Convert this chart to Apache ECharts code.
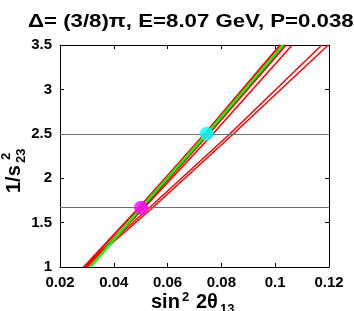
<!DOCTYPE html>
<html><head><meta charset="utf-8">
<script src="https://cdn.jsdelivr.net/npm/echarts@6/dist/echarts.min.js"></script>
<style>html,body{margin:0;padding:0;background:#fff;}#c{width:354px;height:311px;}</style>
</head><body><div id="c"></div>
<script>
// ---- data ----
const yLevels = [1, 1.667, 2.5, 3.5];               // 1/s23^2 values where curves were read
const redBandLeft  = [0.0289, 0.0494, 0.0738, 0.1019];
const redBandRight = [0.0300, 0.0508, 0.0753, 0.1039];
const greenCurve   = [0.0313, 0.0501, 0.0745, 0.1029];
const redSingle    = [0.0300, 0.0513, 0.0769, 0.1063];
const redDouble1   = [0.0287, 0.0532, 0.0832, 0.1173];
const redDouble2   = [0.0292, 0.0544, 0.0845, 0.1197];
const hLines = [2.5, 1.6667];
const cyanPoint = [0.0745, 2.5];
const magentaPoint = [0.0501, 1.6667];
const xTicks = {min: 0.02, max: 0.12, step: 0.02};
const yTicks = {min: 1, max: 3.5, step: 0.5};
const titleText = 'Δ= (3/8)π, E=8.07 GeV, P=0.0388';

const FF = '"Liberation Sans", Arial, Helvetica, sans-serif';
const pairs = xs => xs.map((x, i) => [x, yLevels[i]]);
function curve(xs, color, width, z) {
  return {type: 'line', data: pairs(xs), symbol: 'none', silent: true, z: z,
    lineStyle: {color: color, width: width}, animation: false};
}
const chart = echarts.init(document.getElementById('c'), null, {renderer: 'canvas'});
const axisCommon = {
  axisLine: {show: true, lineStyle: {color: '#000', width: 1}},
  axisTick: {show: true, inside: true, length: 4, lineStyle: {color: '#000'}},
  splitLine: {show: false}
};
chart.setOption({
  animation: false,
  grid: {left: 60, right: 25, top: 45, bottom: 44, show: false},
  xAxis: [
    Object.assign({type: 'value', min: xTicks.min, max: xTicks.max, interval: xTicks.step, position: 'bottom',
      axisLabel: {color: '#000', fontSize: 15, fontWeight: 'bold', fontFamily: FF, margin: 8}}, axisCommon),
    Object.assign({type: 'value', min: xTicks.min, max: xTicks.max, interval: xTicks.step, position: 'top',
      axisLabel: {show: false}}, axisCommon)
  ],
  yAxis: [
    Object.assign({type: 'value', min: yTicks.min, max: yTicks.max, interval: yTicks.step, position: 'left',
      axisLabel: {color: '#000', fontSize: 15, fontWeight: 'bold', fontFamily: FF, margin: 8}}, axisCommon),
    Object.assign({type: 'value', min: yTicks.min, max: yTicks.max, interval: yTicks.step, position: 'right',
      axisLabel: {show: false}}, axisCommon)
  ],
  series: [
    {type: 'line', data: [], z: 1, markLine: {silent: true, symbol: 'none', animation: false,
      label: {show: false}, lineStyle: {color: '#707070', type: 'solid', width: 1},
      data: hLines.map(v => ({yAxis: v}))}},
    curve(redDouble1, '#ff0000', 1.5, 2),
    curve(redDouble2, '#ff0000', 1.5, 2),
    curve(redSingle, '#ff0000', 1.5, 2),
    curve(redBandLeft, '#ff0000', 2, 2),
    curve(redBandRight, '#ff0000', 2, 2),
    curve(greenCurve, '#00ff00', 2.5, 3),
    {type: 'scatter', data: [cyanPoint], symbolSize: 14, itemStyle: {color: '#00ffff'}, z: 5},
    {type: 'scatter', data: [magentaPoint], symbolSize: 14, itemStyle: {color: '#ff00ff'}, z: 5}
  ],
  graphic: [
    {type: 'text', x: 28, y: 21.5, scaleX: 1.17, style: {text: titleText, fill: '#000',
      font: 'bold 19px ' + FF, textAlign: 'left', textVerticalAlign: 'middle'}},
    // x-axis title: sin^2 2θ_13
    {type: 'text', x: 151, y: 302, style: {text: 'sin', fill: '#000', font: 'bold 20px ' + FF, textVerticalAlign: 'middle'}},
    {type: 'text', x: 182, y: 297, style: {text: '2', fill: '#000', font: 'bold 13px ' + FF, textVerticalAlign: 'middle'}},
    {type: 'text', x: 196, y: 302, style: {text: '2θ', fill: '#000', font: 'bold 20px ' + FF, textVerticalAlign: 'middle'}},
    {type: 'text', x: 220, y: 309, style: {text: '13', fill: '#000', font: 'bold 13px ' + FF, textVerticalAlign: 'middle'}},
    // y-axis title: 1/s^2_23
    {type: 'text', x: 14, y: 193, rotation: Math.PI / 2, style: {text: '1/s', fill: '#000', font: 'bold 20px ' + FF, textAlign: 'left', textVerticalAlign: 'middle'}},
    {type: 'text', x: 6.5, y: 160, rotation: Math.PI / 2, style: {text: '2', fill: '#000', font: 'bold 13px ' + FF, textAlign: 'left', textVerticalAlign: 'middle'}},
    {type: 'text', x: 21, y: 163, rotation: Math.PI / 2, style: {text: '23', fill: '#000', font: 'bold 13px ' + FF, textAlign: 'left', textVerticalAlign: 'middle'}}
  ]
});
</script></body></html>
